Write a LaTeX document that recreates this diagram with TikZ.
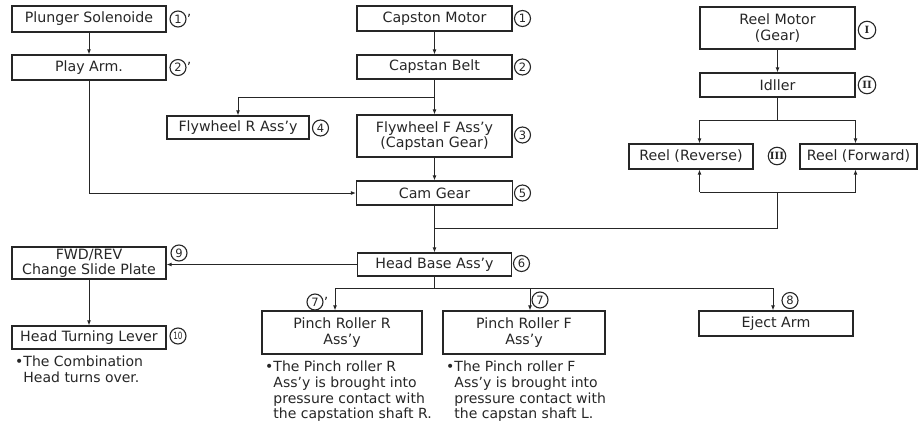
\documentclass[tikz,border=0pt]{standalone}
\usepackage{fontspec}
\setmainfont{DejaVu Sans}
\newfontfamily\serf{DejaVu Serif}
\usetikzlibrary{arrows.meta,calc}
\begin{document}
\begin{tikzpicture}[x=1pt,y=-1pt,
  every node/.style={text=black!85},
  box/.style={draw=black!85, line width=1.2pt, inner sep=0pt, align=center, font=\fontsize{14.2}{15.4}\selectfont},
  prm/.style={inner sep=0pt, anchor=west, font=\fontsize{14}{14}\selectfont},
  note/.style={inner sep=0pt, align=left, anchor=north west, font=\fontsize{14}{15.6}\selectfont},
  ln/.style={line width=1pt, draw=black!85},
  arr/.style={ln, -{Latex[length=5pt,width=4pt]}},
  cn/.style={circle, draw=black!85, line width=1.1pt, inner sep=0pt, minimum size=16pt, font=\fontsize{11.5}{11.5}\selectfont},
  rc/.style={circle, draw=black!85, line width=1.1pt, inner sep=0pt, minimum size=17.5pt, font=\fontsize{10}{10}\serf\bfseries}
]
\useasboundingbox (0,0) rectangle (921,426);
% boxes
\node[box, minimum width=154pt, minimum height=26pt] (ps) at (89,19) {Plunger Solenoide};
\node[box, minimum width=154pt, minimum height=25pt] (pa) at (89,67.5) {Play Arm.};
\node[box, minimum width=155pt, minimum height=25pt] (cm) at (434.5,18.5) {Capston Motor};
\node[box, minimum width=155pt, minimum height=24pt] (cb) at (434.5,67) {Capstan Belt};
\node[box, minimum width=142pt, minimum height=23pt] (fr) at (238,127.5) {Flywheel R Ass’y};
\node[box, minimum width=155pt, minimum height=42pt] (ff) at (434.5,136) {Flywheel F Ass’y\\(Capstan Gear)};
\node[box, minimum width=156pt, minimum height=24pt] (cg) at (434.5,193) {Cam Gear};
\node[box, minimum width=155pt, minimum height=42pt] (rm) at (777.5,28) {Reel Motor\\(Gear)};
\node[box, minimum width=155pt, minimum height=24pt] (id) at (777.5,85) {Idller};
\node[box, minimum width=124pt, minimum height=25pt] (rr) at (691,156.5) {Reel (Reverse)};
\node[box, minimum width=117pt, minimum height=25pt] (rf) at (858.5,156.5) {Reel (Forward)};
\node[box, minimum width=154pt, minimum height=23pt] (hb) at (434.5,264.5) {Head Base Ass’y};
\node[box, minimum width=154pt, minimum height=32pt] (fwd) at (89,263) {FWD/REV\\Change Slide Plate};
\node[box, minimum width=154pt, minimum height=23pt] (htl) at (89,337.5) {Head Turning Lever};
\node[box, minimum width=160pt, minimum height=43pt] (prr) at (342,332.5) {Pinch Roller R\\Ass’y};
\node[box, minimum width=162pt, minimum height=43pt] (prf) at (524,332.5) {Pinch Roller F\\Ass’y};
\node[box, minimum width=154pt, minimum height=25pt] (ej) at (776,323.5) {Eject Arm};
% notes
\node[note] (n1) at (15,356) {•The Combination\\\hphantom{•}Head turns over.};
\node[note] (n2) at (265,361) {•The Pinch roller R\\\hphantom{•}Ass’y is brought into\\\hphantom{•}pressure contact with\\\hphantom{•}the capstation shaft R.};
\node[note] (n3) at (446,361) {•The Pinch roller F\\\hphantom{•}Ass’y is brought into\\\hphantom{•}pressure contact with\\\hphantom{•}the capstan shaft L.};
% labels
\node[cn] (l1p) at (178,19) {1};
\node[prm] (l1pp) at (l1p.east) {’};
\node[cn] (l2p) at (178,67.5) {2};
\node[prm] (l2pp) at (l2p.east) {’};
\node[cn] (l1) at (522.5,18.5) {1};
\node[cn] (l2) at (522.5,67) {2};
\node[cn] (l3) at (522.5,135) {3};
\node[cn] (l4) at (320.5,128) {4};
\node[cn] (l5) at (522.5,193) {5};
\node[cn] (l6) at (521.5,263.5) {6};
\node[cn] (l7p) at (315,302) {7};
\node[prm] (l7pp) at (l7p.east) {’};
\node[cn] (l7) at (540,300) {7};
\node[cn] (l8) at (790,300.5) {8};
\node[cn] (l9) at (179,253) {9};
\node[cn] (l10) at (178,336) {\fontsize{10}{10}\selectfont\scalebox{0.72}[1]{10}};
\node[rc] (r1) at (867,30) {I};
\node[rc] (r2) at (867,85) {II};
\node[rc] (r3) at (777,156) {III};
% connectors
\draw[arr] (ps.south) -- (pa.north);
\draw[arr] (pa.south) |- (cg.west);
\draw[arr] (cm.south) -- (cb.north);
\draw[arr] (cb.south) -- (ff.north);
\coordinate (brF) at (434.5,97);
\draw[arr] (brF) -| (fr.north);
\draw[arr] (ff.south) -- (cg.north);
\draw[arr] (cg.south) -- (hb.north);
\draw[arr] (rm.south) -- (id.north);
\coordinate (rtopM) at (777.5,120);
\coordinate (rtopL) at (699.5,120);
\coordinate (rtopR) at (855.5,120);
\draw[ln] (id.south) -- (rtopM);
\draw[ln] (rtopL) -- (rtopR);
\draw[arr] (rtopL) -- (rtopL |- rr.north);
\draw[arr] (rtopR) -- (rtopR |- rf.north);
\coordinate (rbotM) at (777.5,192);
\coordinate (rbotL) at (699.5,192);
\coordinate (rbotR) at (855.5,192);
\coordinate (rjoin) at (434.5,228);
\draw[ln] (rjoin) -| (rbotM);
\draw[ln] (rbotL) -- (rbotR);
\draw[arr] (rbotL) -- (rbotL |- rr.south);
\draw[arr] (rbotR) -- (rbotR |- rf.south);
\draw[arr] (hb.west) -- (hb.west -| fwd.east);
\draw[arr] (fwd.south) -- (htl.north);
\coordinate (hbM) at (434.5,288);
\coordinate (pL) at (335,288);
\coordinate (pM) at (530,288);
\coordinate (pE) at (773,288);
\draw[ln] (hb.south) -- (hbM);
\draw[ln] (pL) -- (pE);
\draw[arr] (pL) -- (pL |- prr.north);
\draw[arr] (pM) -- (pM |- prf.north);
\draw[arr] (pE) -- (pE |- ej.north);
\end{tikzpicture}
\end{document}
